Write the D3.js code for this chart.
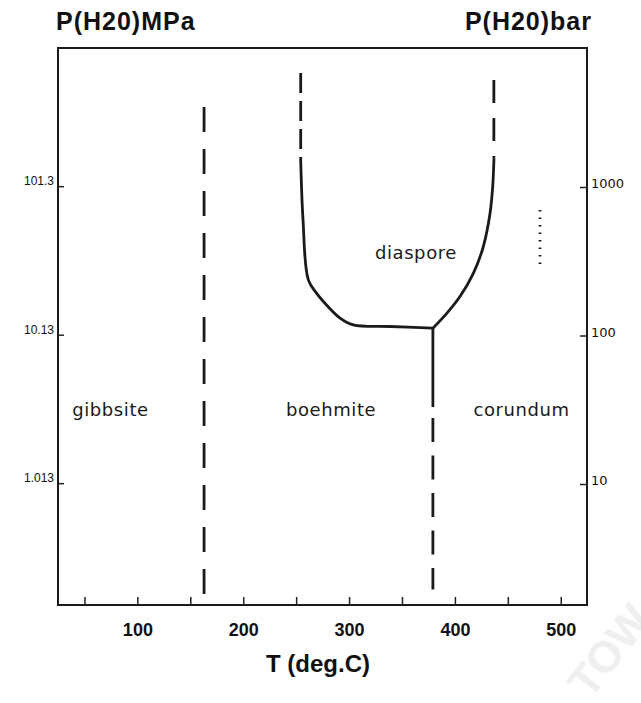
<!DOCTYPE html>
<meta charset="utf-8">
<style>
body { margin: 0; background: #fff; }
svg { display: block; background: #fff; }
.title { font: bold 25px "Liberation Sans", Arial, sans-serif; letter-spacing: 1px; fill: #111; }
.phase { font: 18px "DejaVu Sans", sans-serif; letter-spacing: 0.6px; fill: #1a1a1a; text-anchor: middle; }
.xaxis text { font: bold 18px "Liberation Sans", Arial, sans-serif; fill: #111; }
.laxis text { font: 12px "Liberation Sans", Arial, sans-serif; fill: #111; }
.raxis text { font: 13px "DejaVu Sans", sans-serif; fill: #111; }
.axis line { stroke: #222; stroke-width: 1.5; }
.xlabel { font: bold 24px "Liberation Sans", Arial, sans-serif; fill: #111; text-anchor: middle; }
.bound { fill: none; stroke: #1a1a1a; stroke-width: 2.8; }
</style>
<svg width="641" height="703"></svg>
<script src="https://d3js.org/d3.v7.min.js"></script>
<script>
// temperature in deg C, water pressure in bar
var tTicks = [50, 100, 150, 200, 250, 300, 350, 400, 450, 500];
var tLabels = [100, 200, 300, 400, 500];
var mpaTicks = [1.013, 10.13, 101.3];
var barTicks = [10, 100, 1000];

// phase boundaries [T, P(bar)]
var gibbsiteBoehmite = [[163, 3460], [163, 1.72]];
var diasporeLeftUpper = [[254.3, 5860], [254.3, 1520]];
var diasporeBoehmite = [[254.3, 1520], [256.5, 600], [261.5, 237], [269.4, 192], [278.9, 160],
                        [291.5, 131], [304, 118], [338.7, 115], [379.2, 112]];
var diasporeCorundum = [[379.2, 112], [392.3, 141], [404.8, 183], [417.4, 262], [426.8, 396],
                        [433.2, 665], [435.7, 1005], [436.9, 1560]];
var diasporeRightUpper = [[436.8, 5260], [436.8, 1560]];
var boehmiteCorundum = [[379.2, 112], [379.2, 33]];
var boehmiteCorundumLow = [[379.2, 27.8], [379.2, 1.95]];
var strayDots = [[480.4, 700], [480.4, 285]];

var phaseNames = ["gibbsite", "boehmite", "corundum", "diaspore"];
var phaseT = [74.6, 283, 463, 363.2];
var phaseP = [28.7, 28.7, 28.7, 327];

var svg = d3.select("svg"),
    mLeft = 58, mRight = 587, mTop = 48, mBottom = 605;

var x = d3.scaleLinear().domain([25, 524.8]).range([mLeft, mRight]);
var y = d3.scaleLog().domain([1.532, 8630]).range([mBottom, mTop]);
var yMPa = d3.scaleLog().domain([0.1532, 863]).range([mBottom, mTop]);

var line = d3.line().x(function(d) { return x(d[0]); }).y(function(d) { return y(d[1]); });
var curve = d3.line().curve(d3.curveCatmullRom.alpha(0.5))
    .x(function(d) { return x(d[0]); }).y(function(d) { return y(d[1]); });

// frame
svg.append("rect")
    .attr("x", mLeft).attr("y", mTop)
    .attr("width", mRight - mLeft).attr("height", mBottom - mTop)
    .attr("fill", "none").attr("stroke", "#1a1a1a").attr("stroke-width", 2);

// axes
svg.append("g").attr("class", "axis xaxis")
    .attr("transform", "translate(0," + mBottom + ")")
    .call(d3.axisBottom(x).tickValues(tTicks).tickSize(-8).tickPadding(18)
      .tickFormat(function(d) { return tLabels.indexOf(d) >= 0 ? d : ""; }))
    .call(function(g) { g.select(".domain").remove(); });

svg.append("g").attr("class", "axis laxis")
    .attr("transform", "translate(" + mLeft + ",0)")
    .call(d3.axisLeft(yMPa).tickValues(mpaTicks).tickSize(-6).tickPadding(4)
      .tickFormat(function(d) { return d; }))
    .call(function(g) {
      g.select(".domain").remove();
      g.selectAll("text").attr("dy", "-0.1em");
    });

svg.append("g").attr("class", "axis raxis")
    .attr("transform", "translate(" + mRight + ",0)")
    .call(d3.axisRight(y).tickValues(barTicks).tickSize(-7).tickPadding(4)
      .tickFormat(function(d) { return d; }))
    .call(function(g) {
      g.select(".domain").remove();
      g.selectAll("text").attr("dy", "0.05em");
    });

// titles
svg.append("text").attr("class", "title").attr("x", 56).attr("y", 30).text("P(H20)MPa");
svg.append("text").attr("class", "title").attr("x", 592).attr("y", 30)
    .attr("text-anchor", "end").text("P(H20)bar");
svg.append("text").attr("class", "xlabel").attr("x", 318).attr("y", 672).text("T (deg.C)");

// boundaries
svg.append("path").attr("class", "bound").attr("d", line(gibbsiteBoehmite))
    .attr("stroke-width", 2.6).attr("stroke-dasharray", "25,17");
svg.append("path").attr("class", "bound").attr("d", line(diasporeLeftUpper))
    .attr("stroke-width", 2.6).attr("stroke-dasharray", "20,8");
svg.append("path").attr("class", "bound").attr("d", curve(diasporeBoehmite));
svg.append("path").attr("class", "bound").attr("d", curve(diasporeCorundum));
svg.append("path").attr("class", "bound").attr("d", line(diasporeRightUpper))
    .attr("stroke-width", 2.6).attr("stroke-dasharray", "23,15");
svg.append("path").attr("class", "bound").attr("d", line(boehmiteCorundum));
svg.append("path").attr("class", "bound").attr("d", line(boehmiteCorundumLow))
    .attr("stroke-width", 2.6).attr("stroke-dasharray", "24,13.5");
svg.append("path").attr("class", "bound").attr("d", line(strayDots))
    .attr("stroke-width", 1.3).attr("stroke", "#555").attr("stroke-dasharray", "1.5,6");

// phase names
svg.selectAll(".phase").data(phaseNames).enter()
  .append("text")
    .attr("class", "phase")
    .attr("x", function(d, i) { return x(phaseT[i]); })
    .attr("y", function(d, i) { return y(phaseP[i]); })
    .text(function(d) { return d; });

// faint watermark
svg.append("text")
    .attr("transform", "translate(590,700) rotate(-52)")
    .attr("fill", "#efefef")
    .style("font", "bold 44px 'Liberation Sans', sans-serif")
    .text("TOW");
</script>
